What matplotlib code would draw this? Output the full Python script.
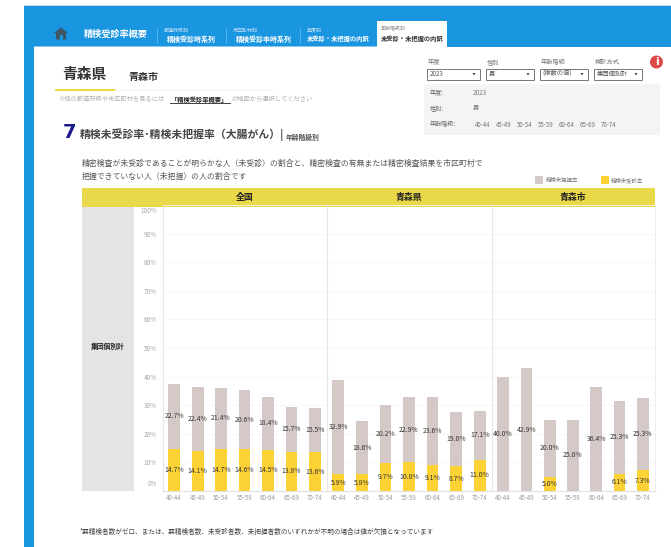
import matplotlib
matplotlib.use("Agg")
import matplotlib.pyplot as plt
from matplotlib.patches import Rectangle, Polygon, Circle
from matplotlib.transforms import ScaledTranslation

plt.rcParams['font.family'] = ['Noto Sans CJK JP', 'DejaVu Sans']

age_groups = ['40-44', '45-49', '50-54', '55-59', '60-64', '65-69', '70-74']
panel_names = ['全国', '青森県', '青森市']

# 精検未受診率 (yellow, bottom)
mijushin_zenkoku = [14.7, 14.1, 14.7, 14.6, 14.5, 13.8, 13.6]
mijushin_ken = [5.9, 5.8, 9.7, 10.0, 9.1, 8.7, 11.0]
mijushin_shi = [0, 0, 5.0, 0, 0, 6.1, 7.3]

# 精検未把握率 (grey, top)
mihaaku_zenkoku = [22.7, 22.4, 21.4, 20.6, 18.4, 15.7, 15.5]
mihaaku_ken = [32.9, 18.6, 20.2, 22.9, 23.6, 19.0, 17.1]
mihaaku_shi = [40.0, 42.9, 20.0, 25.0, 36.4, 25.3, 25.3]

y_ticks = list(range(0, 101, 10))

BLUE = '#1a96e0'
YELLOW = '#fdd235'
GREY_BAR = '#d4c9c7'
HEADER = '#e9d94a'
W, H = 671, 547

fig = plt.figure(figsize=(W / 100, H / 100), dpi=100)

# page furniture lives on a pixel-coordinate axes
bg = fig.add_axes([0, 0, 1, 1], zorder=0)
bg.set_xlim(0, W)
bg.set_ylim(H, 0)
bg.axis('off')


def box(x0, y0, x1, y1, **kw):
    kw.setdefault('linewidth', 0)
    bg.add_patch(Rectangle((x0, y0), x1 - x0, y1 - y0, **kw))


def label(x, y, s, size=5, color='#444444', ha='left', weight='normal', **kw):
    return bg.text(x, y, s, fontsize=size, color=color, ha=ha, va='center', fontweight=weight, **kw)


# blue frame
box(24, 6, W, 47, facecolor=BLUE)
box(24, 47, 33.5, H, facecolor=BLUE)
box(24, 5, W, 6.3, facecolor='#b9dcf3')
box(377, 21, 447, 47, facecolor='white')
box(33.5, 46, 377, 47, facecolor='#8cc8ee')

# home icon
bg.add_patch(Polygon([(54, 33), (61, 27.5), (68, 33), (66, 33), (66, 39.5), (56, 39.5), (56, 33)],
                     closed=True, facecolor='#3f5566', edgecolor='none'))
box(59.5, 35, 62.5, 39.5, facecolor=BLUE)

# nav tabs
label(84, 34, '精検受診率概要', 6.6, 'white', weight='bold')
for sep_x in (157, 226, 300):
    bg.plot([sep_x, sep_x], [28, 43], color='#5db5ea', lw=0.6)
label(164, 30, '都道府県別', 3.6, '#cfe8f8')
label(167, 39, '精検受診時系列', 5, 'white', weight='bold')
label(233, 30, '市区町村別', 3.6, '#cfe8f8')
label(236, 39, '精検受診率時系列', 5, 'white', weight='bold')
label(307, 30, '年度別', 3.6, '#cfe8f8')
label(307, 39, '未受診・未把握の内訳', 4.5, 'white', weight='bold')
label(381, 29, '年齢階級別', 3.6, '#888888')
label(381, 39, '未受診・未把握の内訳', 4.5, '#333333', weight='bold')

# heading
label(62, 74, '青森県', 10.6, '#333333', weight='bold')
label(128, 77, '青森市', 7.2, '#333333', weight='bold')
box(55, 88.5, 115, 91, facecolor='#f0d93c')
box(115, 89.5, 275, 90.5, facecolor='#f3f3f3')
label(58, 99.5, '※他の都道府県や市区町村を見るには', 4.5, '#b0b0b0')
label(171, 99.5, '「精検受診率概要」', 4.5, '#222222', weight='bold')
bg.plot([170, 230], [103, 103], color='#222222', lw=0.6)
label(231, 99.5, 'の地図から選択してください', 4.5, '#b0b0b0')

label(63, 133, '7', 14, '#1a1a8c', weight='bold', family='DejaVu Sans')
label(80, 135, '精検未受診率･精検未把握率（大腸がん）|', 7.8, '#444444', weight='bold')
label(286, 137, '年齢階級別', 4.9, '#555555', weight='bold')
label(82, 164, '精密検査が未受診であることが明らかな人（未受診）の割合と、精密検査の有無または精密検査結果を市区町村で', 5.65, '#555555')
label(82, 177, '把握できていない人（未把握）の人の割合です', 5.65, '#555555')

# filters
filters = [(427, 480, '年度', '2023'), (486, 534, '性別', '男'),
           (540, 588, '年齢階級', '(複数の値)'), (594, 642, '検診方式', '集団個別計')]
for x0, x1, title, val in filters:
    label(x0 + 0.5, 62, title, 4.5, '#777777')
    box(x0, 68.5, x1, 79.5, facecolor='white', edgecolor='#777777', linewidth=0.7)
    label(x0 + 2.5, 74, val, 4.5, '#555555')
    bg.add_patch(Polygon([(x1 - 7.5, 73), (x1 - 4.5, 73), (x1 - 6, 75.5)], closed=True,
                         facecolor='#444444', edgecolor='none'))
bg.add_patch(Circle((656.5, 62), 6.5, facecolor='#dc4a4a', edgecolor='none'))
label(656.5, 62, 'i', 8, 'white', ha='center', weight='bold', family='DejaVu Sans')

# filter summary
box(424, 84, 660, 135, facecolor='#f4f4f4')
label(430, 93, '年度:', 4.4, '#666666')
label(473, 93, '2023', 4.6, '#777777')
label(430, 108, '性別:', 4.4, '#666666')
label(473, 108, '男', 4.6, '#777777')
label(430, 124, '年齢階級:', 4.4, '#666666')
for i, a in enumerate(age_groups):
    label(475 + i * 21, 125, a, 4.4, '#777777')

# legend
box(535, 176, 543, 184, facecolor=GREY_BAR)
label(546, 180.5, '精検未把握率', 3.9, '#777777')
box(601, 176, 608.5, 184, facecolor=YELLOW)
label(611, 180.5, '精検未受診率', 3.9, '#777777')

# chart header and row label
box(82, 188, 654.5, 206.5, facecolor=HEADER)
box(82, 206.5, 134, 491, facecolor='#e4e4e4')
label(108, 346, '集団個別計', 4.9, '#222222', ha='center', weight='bold')

label(80, 532, '*要精検者数がゼロ、または、要精検者数、未受診者数、未把握者数のいずれかが不明の場合は値が欠損となっています', 4.75, '#444444')

panel_edges = [162.5, 326.5, 491.5, 654.5]
y_top, y_zero = 205, 491
series = [(mijushin_zenkoku, mihaaku_zenkoku), (mijushin_ken, mihaaku_ken), (mijushin_shi, mihaaku_shi)]

for i, (name, (yellow, grey)) in enumerate(zip(panel_names, series)):
    left, right = panel_edges[i], panel_edges[i + 1]
    ax = fig.add_axes([left / W, 1 - y_zero / H, (right - left) / W, (y_zero - y_top) / H], zorder=1)
    ax.patch.set_alpha(0)
    x = list(range(len(age_groups)))
    b1 = ax.bar(x, yellow, width=0.5, color=YELLOW, zorder=2)
    b2 = ax.bar(x, grey, width=0.5, bottom=yellow, color=GREY_BAR, zorder=2)
    ax.bar_label(b1, labels=[f'{v:.1f}%' if v else '' for v in yellow], label_type='center',
                 fontsize=4.9, color='#333333', zorder=3)
    ax.bar_label(b2, labels=[f'{v:.1f}%' for v in grey], label_type='center',
                 fontsize=4.9, color='#333333', zorder=3)
    ax.set_xlim(-0.5, 6.5)
    ax.set_ylim(0, 100)
    ax.set_xticks(x, age_groups)
    ax.tick_params(axis='x', length=0, labelsize=4.4, labelcolor='#9a9a9a', pad=2.5)
    ax.set_yticks(y_ticks)
    ax.yaxis.grid(True, color='#f5f5f5', lw=0.6, zorder=0)
    ax.set_axisbelow(True)
    for s in ('top', 'right'):
        ax.spines[s].set_visible(False)
    ax.spines['left'].set_color('#e6e6e6')
    ax.spines['left'].set_linewidth(0.8)
    ax.spines['bottom'].set_color('#e2e2e2')
    ax.spines['bottom'].set_linewidth(0.8)
    if i == 0:
        ax.set_yticklabels([f'{t}%' for t in y_ticks])
        ax.tick_params(axis='y', length=0, labelsize=4.6, labelcolor='#a8a8a8', pad=4)
        # the end labels are pushed inside the plot area, like the original
        first, last = ax.get_yticklabels()[0], ax.get_yticklabels()[-1]
        first.set_va('bottom')
        first.set_transform(first.get_transform() + ScaledTranslation(0, 2.5 / 100, fig.dpi_scale_trans))
        last.set_va('top')
        last.set_transform(last.get_transform() + ScaledTranslation(0, -2 / 100, fig.dpi_scale_trans))
    else:
        ax.tick_params(axis='y', length=0, labelleft=False)
    if i == 2:
        ax.spines['right'].set_visible(True)
        ax.spines['right'].set_color('#eeeeee')
        ax.spines['right'].set_linewidth(0.8)
    ax.set_title(name, fontsize=6.4, fontweight='bold', color='#222222', y=1.0, pad=3.5)

fig.savefig('out.png', dpi=100)
